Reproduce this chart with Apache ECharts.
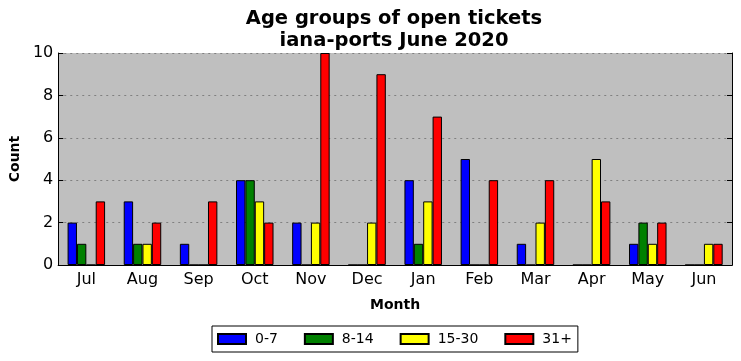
<!DOCTYPE html>
<html><head><meta charset="utf-8">
<script src="https://cdn.jsdelivr.net/npm/echarts@6/dist/echarts.min.js"></script>
<style>html,body{margin:0;padding:0;background:#fff}#c{width:741px;height:361px}</style>
</head><body><div id="c"></div>
<script>
const months = ['Jul','Aug','Sep','Oct','Nov','Dec','Jan','Feb','Mar','Apr','May','Jun'];
const seriesNames = ['0-7','8-14','15-30','31+'];
const s0_7   = [2,3,1,4,2,0,4,5,1,0,1,0];
const s8_14  = [1,1,0,4,0,0,1,0,0,0,2,0];
const s15_30 = [0,1,0,3,2,2,3,0,2,5,1,1];
const s31    = [3,2,3,2,10,9,7,4,4,3,2,1];
const colors = ['#0000ff','#008000','#ffff00','#ff0000'];
const yTicks = [0,2,4,6,8,10];
const titleLines = ['Age groups of open tickets','iana-ports June 2020'];

const font = 'DejaVu Sans';
const chart = echarts.init(document.getElementById('c'), null, {renderer:'canvas'});
const data = [s0_7, s8_14, s15_30, s31];
const titleStyle = {fontFamily:font, fontWeight:'bold', fontSize:19.5, color:'#000'};
chart.setOption({
  animation:false,
  title:[
    {text:titleLines[0], left:389, top:4, textAlign:'center', textStyle:titleStyle},
    {text:titleLines[1], left:389, top:26, textAlign:'center', textStyle:titleStyle}
  ],
  legend:{bottom:9, left:212, itemWidth:28, itemHeight:10, itemGap:26,
    borderColor:'#000', borderWidth:1, borderRadius:0, padding:[6,6,6,5],
    textStyle:{fontFamily:font, fontSize:14, color:'#000', padding:[0,0,0,4]},
    data:seriesNames.map(n=>({name:n, icon:'rect'}))},
  grid:{left:56, top:53, width:676, height:212, containLabel:false,
    backgroundColor:'#bfbfbf', show:true, borderWidth:0},
  xAxis:[{type:'category', data:months, position:'bottom',
    name:'Month', nameLocation:'middle', nameGap:33,
    nameTextStyle:{fontFamily:font, fontWeight:'bold', fontSize:14, color:'#000'},
    axisLine:{lineStyle:{color:'#000', width:1}},
    axisTick:{inside:true, length:5, alignWithLabel:true, lineStyle:{color:'#000'}},
    axisLabel:{fontFamily:font, fontSize:16, color:'#000', margin:7},
    splitLine:{show:false}},
   {type:'category', data:months, position:'top',
    axisLine:{lineStyle:{color:'#000', width:1}},
    axisTick:{inside:true, length:5, alignWithLabel:true, lineStyle:{color:'#000'}},
    axisLabel:{show:false}, splitLine:{show:false}}],
  yAxis:[{type:'value', min:0, max:10, interval:2, position:'left',
    name:'Count', nameLocation:'middle', nameGap:29,
    nameTextStyle:{fontFamily:font, fontWeight:'bold', fontSize:14, color:'#000'},
    axisLine:{show:true, lineStyle:{color:'#000', width:1}},
    axisTick:{show:true, inside:true, length:5, lineStyle:{color:'#000'}},
    axisLabel:{fontFamily:font, fontSize:16, color:'#000', margin:5,
      formatter:v=>yTicks.includes(v)?String(v):''},
    splitLine:{show:true, lineStyle:{color:'#808080', type:[2,4], width:1}}},
   {type:'value', min:0, max:10, interval:2, position:'right',
    axisLine:{show:true, lineStyle:{color:'#000', width:1}},
    axisTick:{show:true, inside:true, length:5, lineStyle:{color:'#000'}},
    axisLabel:{show:false}, splitLine:{show:false}}],
  series:seriesNames.map((n,i)=>({name:n, type:'bar', data:data[i],
    barWidth:'16.7%', barGap:'0%',
    itemStyle:{color:colors[i], borderColor:'#000', borderWidth:1}}))
});
</script></body></html>
